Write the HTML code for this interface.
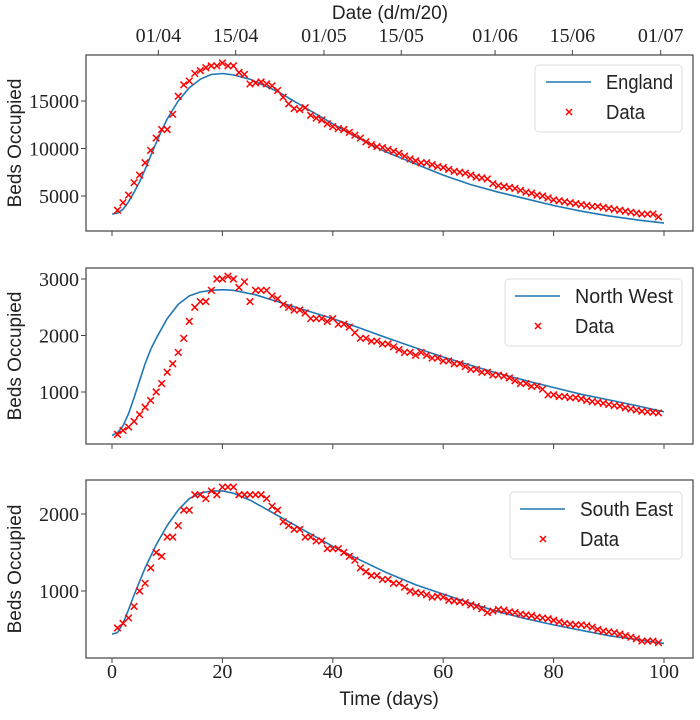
<!DOCTYPE html>
<html><head><meta charset="utf-8"><style>
body{margin:0;background:#fff;}
svg text{font-family:"Liberation Serif",serif;font-size:20px;fill:#222;}
.lab{font-family:"Liberation Sans",sans-serif;font-size:19px;}
.leg{font-family:"Liberation Sans",sans-serif;font-size:20px;}
</style></head><body>
<svg id="c" width="700" height="715" xmlns="http://www.w3.org/2000/svg"></svg>
<script>
const days = Array.from({length:99},(_,i)=>i+1);
const engModelDays=[0,1,2,3,4,5,6,7,8,9,10,12,14,16,18,20,22,25,30,35,40,43,45,49,54,60,65,70,75,80,85,90,95,100];
const engModel=[3100,3200,3600,4400,5400,6500,7800,9200,10600,11900,13100,15000,16400,17300,17800,17900,17750,17300,16000,14300,12600,11600,11000,9800,8600,7200,6200,5400,4700,4000,3400,2900,2500,2150];
const engData=[3500,4300,5100,6400,7200,8500,9800,11100,12000,12000,13600,15500,16700,17100,17900,18200,18500,18700,18700,19000,18700,18700,18000,17800,16800,16900,17000,16800,16600,16100,15400,14700,14200,14100,14300,13500,13200,13000,12600,12300,12100,12000,11700,11400,11100,10700,10400,10200,10100,9900,9700,9500,9200,8900,8700,8500,8500,8300,8100,8000,7800,7600,7500,7400,7200,7000,6900,6800,6300,6100,6000,5900,5800,5600,5400,5300,5100,5000,4800,4600,4500,4400,4300,4200,4100,4000,3900,3900,3800,3700,3600,3500,3400,3300,3200,3100,3100,3100,2800];
const nwModelDays=[0,1,2,3,4,5,6,7,8,10,12,14,16,18,20,22,26,30,35,40,45,50,55,60,65,70,75,80,85,90,95,100];
const nwModel=[230,280,400,620,900,1200,1500,1750,1950,2300,2550,2700,2770,2800,2810,2800,2720,2600,2450,2300,2130,1950,1780,1620,1470,1330,1200,1080,960,860,760,650];
const nwData=[250,320,380,480,600,730,850,1000,1150,1350,1500,1700,1950,2250,2500,2600,2600,2800,3000,3000,3050,3000,2850,2950,2600,2800,2800,2800,2700,2650,2550,2500,2450,2450,2400,2300,2300,2300,2250,2300,2200,2200,2150,2050,1950,1950,1900,1900,1850,1850,1800,1750,1700,1700,1650,1700,1650,1600,1600,1550,1550,1500,1500,1450,1400,1400,1350,1350,1300,1300,1280,1250,1200,1150,1150,1100,1100,1050,950,950,920,920,900,900,880,850,830,820,800,780,760,750,720,700,680,660,650,640,630];
const seModelDays=[0,1,2,3,4,6,8,10,12,14,16,18,20,22,25,30,35,40,45,50,55,60,65,70,75,80,85,90,95,100];
const seModel=[440,460,580,760,950,1300,1600,1850,2050,2200,2270,2300,2300,2270,2180,1980,1780,1580,1400,1230,1080,960,840,730,640,560,490,420,370,320];
const seData=[520,580,650,800,1000,1100,1300,1500,1450,1700,1700,1850,2050,2050,2250,2250,2200,2300,2250,2350,2350,2350,2250,2250,2250,2250,2250,2200,2100,2050,1900,1850,1800,1800,1700,1700,1650,1650,1550,1550,1550,1500,1450,1400,1300,1250,1200,1200,1150,1150,1100,1100,1050,1000,980,970,950,920,930,920,880,870,860,850,820,800,770,720,740,760,750,730,720,700,690,680,660,650,640,620,600,580,570,560,560,550,530,500,480,470,460,440,420,400,380,350,350,350,330];
const xTicks=[0,20,40,60,80,100];
const dateLabels=["01/04","15/04","01/05","15/05","01/06","15/06","01/07"];
const dateDays=[8.4,22.4,38.4,52.4,69.4,83.4,99.4];

const NS="http://www.w3.org/2000/svg";
const svg=document.getElementById('c');
function el(t,a,p){const e=document.createElementNS(NS,t);for(const k in a)e.setAttribute(k,a[k]);(p||svg).appendChild(e);return e;}
const X=d=>112+d*5.52;
const panels=[
 {top:55,bot:231,y0:196,v0:5000,ppu:9.5/1000,ticks:[5000,10000,15000],name:"England",tw:67,lx:535,ly:65,key:"england"},
 {top:268,bot:444,y0:392,v0:1000,ppu:56.5/1000,ticks:[1000,2000,3000],name:"North West",tw:98,lx:505,ly:279,key:"north-west"},
 {top:480,bot:658,y0:591,v0:1000,ppu:77/1000,ticks:[1000,2000],name:"South East",tw:93,lx:510,ly:492,key:"south-east"}];
const series=[[engModelDays,engModel,engData],[nwModelDays,nwModel,nwData],[seModelDays,seModel,seData]];
panels.forEach((p,pi)=>{
 const [md,mv,dv]=series[pi];
 const g=el('g',{});
 
 
 const Y=v=>p.y0-(v-p.v0)*p.ppu;
 el('rect',{x:86,y:p.top,width:607,height:p.bot-p.top,fill:'#fff',stroke:'#444','stroke-width':1.2},g);
 p.ticks.forEach(t=>{
  el('line',{x1:81,x2:86,y1:Y(t),y2:Y(t),stroke:'#444'},g);
  const tx=el('text',{x:79,y:Y(t)+7,'text-anchor':'end'},g);tx.textContent=t;
  
  
 });
 xTicks.forEach(t=>{
  el('line',{x1:X(t),x2:X(t),y1:p.bot,y2:p.bot+5,stroke:'#444'},g);
  if(pi==2){const tx=el('text',{x:X(t),y:678,'text-anchor':'middle'},g);tx.textContent=t;
   
   }
 });
 const yl=el('text',{class:'lab',transform:`translate(21,${(p.top+p.bot)/2}) rotate(-90)`,'text-anchor':'middle'},g);
 yl.textContent="Beds Occupied";
 
 
 const d=md.map((dd,i)=>(i?'L':'M')+X(dd).toFixed(1)+','+Y(mv[i]).toFixed(1)).join('');
 const ln=el('path',{d:d,fill:'none',stroke:'#1f77b4','stroke-width':1.6,'stroke-linejoin':'round'},g);
 
 
 dv.forEach((v,i)=>{
  const cx=X(days[i]),cy=Y(v),s=3.3;
  const m=el('path',{d:`M${cx-s},${cy-s}L${cx+s},${cy+s}M${cx-s},${cy+s}L${cx+s},${cy-s}`,stroke:'red','stroke-width':1.5},g);
  
  
 });
 const lg=el('g',{},g);
 
 
 const ly=p.ly;
 el('rect',{x:p.lx,y:ly,width:682-p.lx,height:67,rx:4,fill:'#fff',stroke:'#ddd'},lg);
 const tx0=682-9-p.tw;
 el('line',{x1:tx0-60,x2:tx0-15,y1:ly+17,y2:ly+17,stroke:'#1f77b4','stroke-width':1.6},lg);
 const lt=el('text',{class:'leg',x:tx0,y:ly+24,textLength:p.tw,lengthAdjust:'spacingAndGlyphs'},lg);lt.textContent=p.name;
 const mx=tx0-37,my=ly+47,s=3;
 el('path',{d:`M${mx-s},${my-s}L${mx+s},${my+s}M${mx-s},${my+s}L${mx+s},${my-s}`,stroke:'red','stroke-width':1.5},lg);
 const dt=el('text',{class:'leg',x:tx0,y:ly+54,textLength:39,lengthAdjust:'spacingAndGlyphs'},lg);dt.textContent="Data";
});
dateDays.forEach((d,i)=>{
 el('line',{x1:X(d),x2:X(d),y1:50,y2:55,stroke:'#444'});
 const t=el('text',{x:X(d),y:42,'text-anchor':'middle'});t.textContent=dateLabels[i];
 
 
});
const tt=el('text',{class:'lab',x:390,y:19,'text-anchor':'middle'});tt.textContent="Date (d/m/20)";


const xt=el('text',{class:'lab',x:389,y:705,'text-anchor':'middle'});xt.textContent="Time (days)";


</script>
</body></html>
